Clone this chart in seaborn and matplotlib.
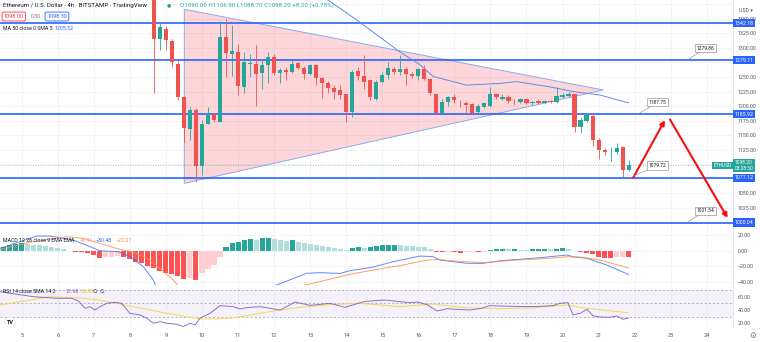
import numpy as np
import matplotlib
matplotlib.use("Agg")
import matplotlib.pyplot as plt
import matplotlib.transforms as mtransforms
import seaborn as sns

sns.set_theme(style="white")
plt.rcParams['font.family'] = ['Roboto', 'DejaVu Sans']

# ---------------- ETH/USD 4h candles (BITSTAMP) ----------------
first_candle_day = 8 + 16 / 24          # Nov 8, 16:00
bars_per_day = 6                        # 4h candles

opens = [1385, 1315, 1332, 1312, 1273, 1216, 1160, 1194, 1098, 1170,
         1186, 1173, 1319, 1290, 1293, 1232, 1272, 1272, 1257, 1270,
         1284, 1257, 1262, 1258, 1274, 1265, 1255, 1270, 1248, 1240,
         1231, 1228, 1220, 1190, 1261, 1251, 1244, 1212, 1242, 1254,
         1264, 1259, 1263, 1256, 1252, 1263, 1247, 1221, 1189, 1207,
         1216, 1206, 1205, 1203, 1190, 1199, 1200, 1220, 1213, 1216,
         1209, 1207, 1212, 1206, 1209, 1206, 1209, 1207, 1216, 1218,
         1220, 1165, 1175, 1183, 1142, 1124, 1121, 1121, 1129, 1090]
highs = [1400, 1343, 1337, 1316, 1279, 1218, 1198, 1196, 1176, 1198,
         1188, 1346, 1350, 1339, 1307, 1293, 1290, 1305, 1279, 1293,
         1290, 1266, 1268, 1279, 1276, 1269, 1273, 1273, 1250, 1243,
         1236, 1236, 1221, 1262, 1268, 1288, 1247, 1245, 1259, 1276,
         1268, 1288, 1268, 1259, 1265, 1270, 1249, 1223, 1212, 1217,
         1220, 1210, 1208, 1205, 1203, 1207, 1233, 1222, 1221, 1219,
         1212, 1214, 1213, 1209, 1210, 1211, 1211, 1233, 1222, 1224,
         1221, 1181, 1186, 1186, 1145, 1128, 1130, 1136, 1131, 1106.9]
lows = [1222, 1296, 1296, 1268, 1210, 1139, 1142, 1070, 1082, 1169,
        1173, 1172, 1250, 1252, 1219, 1222, 1250, 1200, 1230, 1239,
        1254, 1239, 1245, 1257, 1264, 1247, 1253, 1236, 1214, 1222,
        1213, 1213, 1173, 1182, 1245, 1230, 1211, 1210, 1240, 1247,
        1255, 1253, 1236, 1248, 1245, 1244, 1219, 1187, 1187, 1200,
        1205, 1199, 1186, 1187, 1188, 1197, 1199, 1213, 1210, 1205,
        1202, 1205, 1204, 1202, 1203, 1204, 1205, 1206, 1214, 1216,
        1156, 1153, 1172, 1131, 1109, 1116, 1105, 1118, 1079, 1088.7]
closes = [1316, 1335, 1313, 1275, 1216, 1162, 1194, 1098, 1170, 1186,
          1176, 1319, 1291, 1294, 1234, 1276, 1274, 1256, 1270, 1284,
          1257, 1262, 1258, 1273, 1265, 1255, 1270, 1249, 1239, 1231,
          1225, 1219, 1190, 1259, 1252, 1242, 1215, 1242, 1254, 1265,
          1259, 1263, 1255, 1252, 1264, 1247, 1222, 1189, 1207, 1215,
          1210, 1205, 1202, 1189, 1201, 1205, 1220, 1215, 1216, 1209,
          1208, 1212, 1206, 1207, 1205, 1209, 1207, 1217, 1219, 1221,
          1165, 1177, 1184, 1142, 1124, 1121, 1122, 1128, 1090, 1098.2]

# MA 50 (close)
ma_days = [13.0, 13.50, 14.29, 15.49, 16.05, 16.41, 17.34, 18.26, 18.73,
           19.65, 20.30, 21.04, 21.833]
ma_values = [1410, 1382, 1348, 1293, 1271, 1251, 1236, 1239, 1242,
             1233, 1225, 1219, 1205.52]

# horizontal support / resistance levels
levels = [1342.18, 1279.11, 1185.92, 1077.12, 1000.04]
last_price = 1098.20

# symmetrical triangle
tri_days = [9.51, 21.13, 9.51]
tri_prices = [1366.2, 1227.7, 1067.5]

# projected path
arrow_days = [[21.96, 22.84], [22.98, 24.58]]
arrow_prices = [[1077.3, 1176.0], [1177.0, 1008.0]]

# price notes
note_values = [1279.86, 1187.75, 1079.72, 1001.54]
note_days = [23.48, 22.13, 21.96, 23.48]

# ---------------- MACD 12 26 9 ----------------
hist_start_day = 4.5
macd_hist = [5.1, 7.2, 9.0, 9.8, 8.5, 7.7, 6.8, 6.0, 4.7, 3.0,
             1.7, -0.9, -1.3, -2.1, -3.4, -6.0, -9.8, -8.5, -7.7, -6.8,
             -8.5, -11.0, -14.0, -16.2, -19.1, -22.6, -25.5, -28.1, -30.2, -32.3,
             -36.6, -35.3, -36.8, -28.9, -23.8, -18.3, -7.7, 4.3, 10.3, 11.2,
             13.7, 14.5, 14.2, 15.8, 16.2, 15.0, 13.7, 12.8, 13.2, 11.5,
             10.3, 8.6, 7.3, 6.0, 4.3, 3.0, 1.7, 0.9, 3.5, 4.3,
             3.0, 4.3, 6.0, 7.0, 7.3, 7.5, 7.3, 6.5, 6.0, 5.2,
             4.3, 1.7, -1.2, -1.7, -1.3, -2.1, -2.5, -1.7, -1.5, -1.9,
             -1.2, 0.9, 2.2, 2.4, 1.8, 2.0, 1.5, 0.9, 1.8, 2.2,
             2.4, 1.8, 2.2, 3.0, 2.8, -0.8, -1.7, -2.5, -4.2, -7.6,
             -8.8, -9.2, -8.6, -7.9, -8.41]
macd_days = [4.398, 5.416, 5.785, 6.431, 7.171, 7.679, 8.003, 8.372, 8.650,
             8.780, 9.39, 10.0, 10.5, 11.33, 12.07, 12.90, 13.27, 13.83,
             14.10, 14.74, 15.30, 16.05, 16.41, 16.60, 17.35, 17.79, 18.27,
             19.18, 20.12, 20.29, 20.68, 21.23, 21.51, 21.833]
macd_line = [3.0, 18.8, 18.8, 13.7, 0.0, -1.2, -7.6, -20.3, -37.3,
             -52.0, -66.0, -68.0, -62.0, -50.0, -43.8, -28.9, -28.0, -29.0,
             -25.5, -21.0, -14.0, -6.8, -7.6, -11.9, -16.1, -16.1, -12.8,
             -9.7, -5.5, -7.6, -9.7, -18.3, -23.8, -30.48]
signal_days = [4.398, 5.31, 6.25, 6.71, 7.17, 7.73, 8.09, 8.47, 8.835, 9.20,
               9.44, 10.0, 10.5, 11.0, 11.61, 12.07, 12.5, 12.86, 13.46, 14.01,
               14.74, 15.57, 16.23, 16.60, 16.88, 17.79, 18.73, 19.65, 20.12,
               20.56, 21.04, 21.833]
signal_line = [1.7, 11.5, 17.9, 15.8, 9.4, 1.7, -1.7, -9.8, -22.5, -37.3,
               -50.0, -58.0, -63.0, -64.0, -61.0, -57.0, -50.0, -43.8, -37.4, -31.0,
               -24.7, -18.3, -11.9, -11.0, -12.8, -15.3, -11.9, -9.7, -7.6,
               -8.4, -11.9, -22.07]

# ---------------- RSI 14 with SMA 14 ----------------
rsi_days = [4.398, 5.32, 5.97, 6.39, 6.57, 6.76, 6.89, 7.03, 7.17, 7.36,
            7.59, 7.77, 8.00, 8.28, 8.47, 8.65, 8.84, 9.02, 9.30, 9.48,
            9.67, 9.81, 9.94, 10.22, 10.50, 10.87, 11.05, 11.24, 11.61, 12.17,
            12.58, 13.0, 13.55, 13.96, 14.52, 15.07, 15.49, 15.77, 15.99, 16.24,
            16.52, 16.80, 17.07, 17.43, 17.71, 17.98, 18.26, 18.62, 19.01, 19.37,
            19.73, 19.93, 20.15, 20.29, 20.49, 20.68, 20.85, 21.04, 21.31, 21.51,
            21.68, 21.833]
rsi_values = [67.5, 60.0, 57.6, 57.6, 53.5, 42.5, 45.0, 40.0, 45.0, 50.0,
              51.5, 50.0, 35.0, 32.5, 27.5, 20.0, 22.5, 20.0, 18.5, 15.0,
              20.0, 17.5, 27.5, 35.0, 46.5, 45.0, 41.5, 43.5, 45.0, 40.0,
              52.0, 47.0, 50.0, 44.0, 53.0, 55.0, 52.5, 51.0, 52.0, 48.0,
              38.5, 42.0, 41.0, 40.0, 42.0, 46.5, 46.0, 45.5, 45.0, 45.5,
              46.5, 50.0, 51.0, 32.5, 35.0, 41.0, 31.0, 29.5, 29.0, 31.0,
              26.0, 27.98]
rsi_sma_days = [4.398, 4.95, 5.78, 6.70, 7.17, 8.09, 9.03, 9.94, 10.42, 10.87,
                11.61, 12.17, 12.72, 13.55, 14.38, 15.49, 16.41, 17.35, 18.26,
                19.18, 20.12, 20.57, 21.04, 21.833]
rsi_sma_values = [47.5, 52.5, 60.0, 57.6, 55.0, 45.0, 35.0, 26.5, 26.5, 28.0,
                  35.0, 40.0, 44.0, 48.0, 50.0, 45.0, 49.0, 43.3, 41.8,
                  43.3, 47.5, 43.3, 40.3, 35.88]

day_ticks = list(range(5, 25))
price_ticks = [1350, 1325, 1300, 1250, 1225, 1200, 1175, 1150, 1125, 1050, 1025]
macd_ticks = [20, 0, -20, -40]
rsi_ticks = [60, 40, 20]

# ---------------- styling ----------------
GREEN = '#26a69a'
RED = '#ef5350'
BLUE = '#2962ff'
GRID = '#f0f2f7'
TXT = '#131722'
AXTXT = '#50535e'

W, H = 760, 342
PLOT_R = 733
fig = plt.figure(figsize=(W / 100, H / 100), dpi=100)
fig.patch.set_facecolor('white')


def rect(top, bottom):
    return [0, 1 - bottom / H, PLOT_R / W, (bottom - top) / H]


ax = fig.add_axes(rect(0, 230))
axm = fig.add_axes(rect(230, 285), sharex=ax)
axr = fig.add_axes(rect(285, 327), sharex=ax)

x_left, x_right = 4.398, 24.728
for a in (ax, axm, axr):
    a.set_xlim(x_left, x_right)
    a.set_facecolor('white')
    for s in a.spines.values():
        s.set_visible(False)
    a.spines['right'].set_visible(True)
    a.spines['right'].set_color('#e0e3eb')
    a.spines['right'].set_linewidth(0.6)
    a.yaxis.tick_right()
    a.tick_params(axis='y', length=0, pad=3.2, labelsize=3.8, labelcolor=AXTXT)
    a.tick_params(axis='x', length=0)
    for d in day_ticks:
        a.axvline(d, color=GRID, lw=0.6, zorder=0)
for a in (ax, axm):
    a.spines['bottom'].set_visible(True)
    a.spines['bottom'].set_color('#e0e3eb')
    a.spines['bottom'].set_linewidth(0.6)
    plt.setp(a.get_xticklabels(), visible=False)

# ---------------- main price panel ----------------
ax.set_ylim(987.3, 1382.2)
for p in range(1000, 1376, 25):
    ax.axhline(p, color=GRID, lw=0.6, zorder=0)

ax.fill(tri_days, tri_prices, facecolor='#f23645', alpha=0.2, edgecolor='none', zorder=1)
ax.fill(tri_days, tri_prices, facecolor='none', edgecolor='#8fa9f0', lw=0.7, zorder=1.1)

for lv in levels:
    ax.axhline(lv, color=BLUE, lw=1.2, zorder=2)
ax.axhline(last_price, color=GREEN, lw=0.6, ls=(0, (1, 2)), alpha=0.7, zorder=2)

o = np.array(opens, dtype=float)
h = np.array(highs, dtype=float)
l = np.array(lows, dtype=float)
c = np.array(closes, dtype=float)
t = first_candle_day + np.arange(len(o)) / bars_per_day
col = np.where(c >= o, GREEN, RED)
ax.vlines(t, l, h, colors=col, lw=0.6, zorder=3)
body = np.maximum(np.abs(c - o), 1.0)
ax.bar(t, body, bottom=np.minimum(o, c), width=0.115, color=col, lw=0, zorder=4)

sns.lineplot(x=ma_days, y=ma_values, ax=ax, color='#5b8def', lw=0.7, legend=False, zorder=3.5)

for (d0, d1), (p0, p1) in zip(arrow_days, arrow_prices):
    ax.annotate('', xy=(d1, p1), xytext=(d0, p0), zorder=6,
                arrowprops=dict(arrowstyle='-|>', color='#f50f0f', lw=1.5,
                                mutation_scale=7, shrinkA=0, shrinkB=0))

offsets = [(17.5, 11.5), (18.5, 11), (24.5, 10.8), (17.5, 11)]
for v, d, off in zip(note_values, note_days, offsets):
    ax.annotate(f"{v:.2f}", xy=(d, v), xytext=off, textcoords='offset pixels',
                ha='center', va='center', fontsize=3.5, color=TXT, zorder=7,
                bbox=dict(boxstyle='square,pad=0.35', fc='white', ec='#9598a1', lw=0.5),
                arrowprops=dict(arrowstyle='-', color='#9598a1', lw=0.5, shrinkA=0, shrinkB=0))

ax.set_yticks(price_ticks)
ax.set_yticklabels([f"{p:.2f}" for p in price_ticks])
ax.set_xlabel('')
ax.set_ylabel('')

tr = mtransforms.blended_transform_factory(ax.transAxes, ax.transData)
for lv in levels:
    ax.text(1.0025, lv, f"{lv:.2f}", transform=tr, ha='left', va='center', fontsize=3.8,
            color='white', clip_on=False, zorder=8,
            bbox=dict(boxstyle='square,pad=0.3', fc=BLUE, ec='none'))
ax.text(0.9985, last_price, 'ETHUSD', transform=tr, ha='right', va='center', fontsize=3.5,
        color='white', clip_on=False, zorder=8,
        bbox=dict(boxstyle='square,pad=0.28', fc=GREEN, ec='none'))
ax.text(1.0025, last_price, f"{last_price:.2f}\n03:28:50", transform=tr, ha='left',
        va='center', fontsize=3.5, color='white', clip_on=False, zorder=8, linespacing=1.1,
        bbox=dict(boxstyle='square,pad=0.3', fc=GREEN, ec='none'))
fig.text(739 / W, 1 - 10 / H, 'USD ▾', fontsize=3.8, color=AXTXT, va='center', ha='left')

# ---------------- MACD panel ----------------
axm.set_ylim(-43.8, 26.5)
for v in macd_ticks:
    axm.axhline(v, color=GRID, lw=0.6, zorder=0)
hist = np.array(macd_hist)
prev = np.r_[hist[0], hist[:-1]]
hcol = np.where(hist >= 0, np.where(hist >= prev, '#26a69a', '#b2dfdb'),
                np.where(hist <= prev, '#ff5252', '#ffcdd2'))
th = hist_start_day + np.arange(len(hist)) / bars_per_day
axm.bar(th, hist, width=0.14, color=hcol, lw=0, zorder=2)
sns.lineplot(x=macd_days, y=macd_line, ax=axm, color='#2962ff', lw=0.7, alpha=0.75,
             legend=False, zorder=3)
sns.lineplot(x=signal_days, y=signal_line, ax=axm, color='#ff9040', lw=0.7, alpha=0.85,
             legend=False, zorder=3)
axm.set_yticks(macd_ticks)
axm.set_yticklabels(['20.00', '0.00', '−20.00', '−40.00'])
axm.set_xlabel('')
axm.set_ylabel('')

# ---------------- RSI panel ----------------
axr.set_ylim(14.4, 77.6)
axr.axhspan(30, 70, color='#7e57c2', alpha=0.08, lw=0, zorder=0)
for v in (70, 50, 30):
    axr.axhline(v, color='#9598a1', lw=0.5, ls=(0, (3, 3)), zorder=1)
sns.lineplot(x=rsi_sma_days, y=rsi_sma_values, ax=axr, color='#f5d94e', lw=0.7,
             legend=False, zorder=2)
sns.lineplot(x=rsi_days, y=rsi_values, ax=axr, color='#7e57c2', lw=0.7, alpha=0.85,
             legend=False, zorder=3)
axr.set_yticks(rsi_ticks)
axr.set_yticklabels([f"{v:.2f}" for v in rsi_ticks])
axr.set_xticks(day_ticks)
axr.set_xticklabels([str(d) for d in day_ticks])
axr.tick_params(axis='x', labelsize=4.0, labelcolor=AXTXT, pad=4)
axr.set_xlabel('')
axr.set_ylabel('')


# ---------------- header texts ----------------
def ftxt(x, y, s, **kw):
    kw.setdefault('fontsize', 4.4)
    kw.setdefault('va', 'center')
    kw.setdefault('ha', 'left')
    return fig.text(x / W, 1 - y / H, s, **kw)


ftxt(3, 5, 'Ethereum / U.S. Dollar · 4h · BITSTAMP · TradingView', color=TXT)
ftxt(169, 5, '●', color=GREEN, fontsize=3.5, ha='center')
ftxt(180, 5, 'O1090.00 H1106.90 L1088.70 C1098.20 +8.20 (+0.75%)', color=GREEN)
ftxt(4, 16.5, '1098.00', color='#f23645', fontsize=4.0,
     bbox=dict(boxstyle='round,pad=0.35,rounding_size=0.3', fc='white', ec='#f23645', lw=0.6))
ftxt(31, 16.5, '0.30', color='#787b86', fontsize=3.8)
ftxt(47, 16.5, '1098.30', color=BLUE, fontsize=4.0,
     bbox=dict(boxstyle='round,pad=0.35,rounding_size=0.3', fc='white', ec=BLUE, lw=0.6))
ftxt(3, 28.5, 'MA 50 close 0 SMA 5', color=TXT, fontsize=3.8)
ftxt(55, 28.5, '1205.52', color=BLUE, fontsize=3.8)

ftxt(3, 240, 'MACD 12 26 close 9 EMA EMA', color=TXT, fontsize=3.8)
ftxt(80, 240, '−8.41', color='#ff8a8a', fontsize=3.8)
ftxt(96, 240, '−30.48', color=BLUE, fontsize=3.8)
ftxt(116, 240, '−22.07', color='#ff9040', fontsize=3.8)

ftxt(3, 291.5, 'RSI 14 close SMA 14 2', color=TXT, fontsize=3.8)
ftxt(66, 291.5, '27.98', color='#7e57c2', fontsize=3.8)
ftxt(81, 291.5, '35.88', color='#e3c12c', fontsize=3.8)
ftxt(93, 291.5, '∅', color=TXT, fontsize=3.8)
ftxt(100, 291.5, '∅', color=TXT, fontsize=3.8)

ftxt(10, 322, 'TV', color=TXT, fontsize=4.0, weight='bold', ha='center',
     bbox=dict(boxstyle='circle,pad=0.3', fc='white', ec='#e0e3eb', lw=0.5))
ftxt(753, 336, '⚙', color='#787b86', fontsize=5.5, ha='center')

fig.savefig('out.png', dpi=100, facecolor='white')
